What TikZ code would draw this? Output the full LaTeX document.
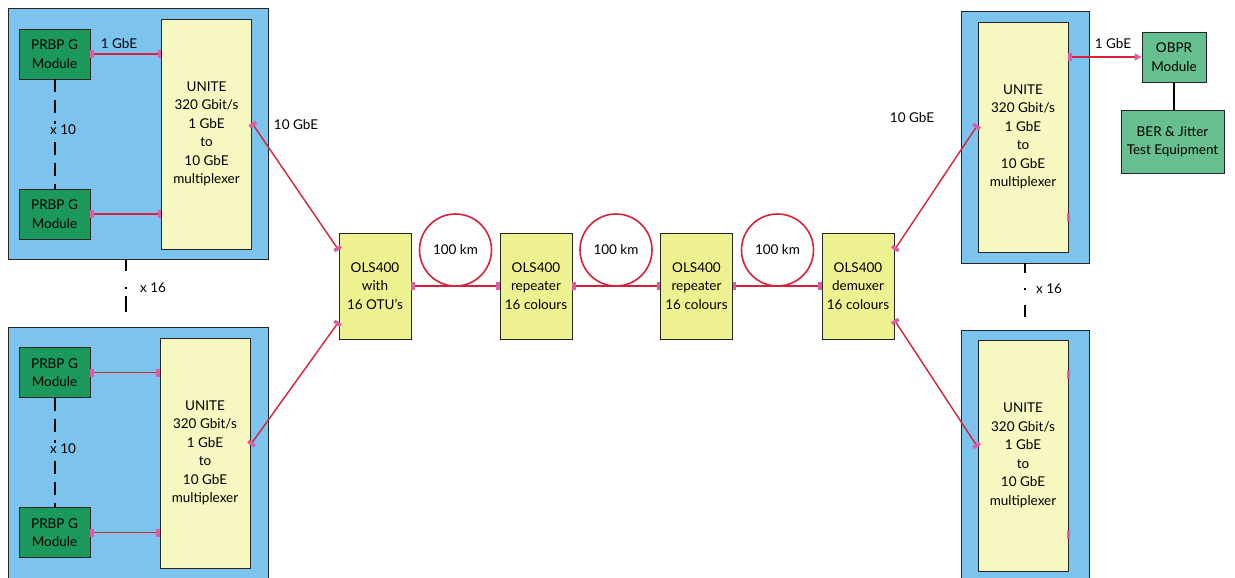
\documentclass[tikz,border=0pt]{standalone}
\usepackage{fontspec}
\setmainfont{Lato}
\usetikzlibrary{arrows.meta,calc}
\definecolor{bluebg}{HTML}{7CC4EE}
\definecolor{unitefill}{HTML}{F7F7C2}
\definecolor{olsfill}{HTML}{EEF190}
\definecolor{darkgreen}{HTML}{1B985C}
\definecolor{lightgreen}{HTML}{66BF8E}
\definecolor{linkred}{HTML}{D8203A}
\definecolor{tippink}{HTML}{DC5CA8}
\tikzset{
  pk/.tip={Rectangle[length=3.5pt,width=8pt,color=tippink]},
  pka/.tip={Triangle[length=7pt,width=7pt,color=tippink]},
}
\begin{document}
\begin{tikzpicture}[x=1pt,y=-1pt,
  font=\fontsize{13.5}{18.5}\selectfont,
  box/.style={draw=black!85, line width=0.8pt, inner sep=0pt, align=center},
  rack/.style={box, fill=bluebg, minimum width=260pt, minimum height=251pt},
  rackr/.style={box, fill=bluebg, minimum width=128pt, minimum height=252pt},
  unite/.style={box, fill=unitefill, minimum width=90pt, minimum height=230pt},
  prbp/.style={box, fill=darkgreen, minimum width=71pt, minimum height=50pt},
  ols/.style={box, fill=olsfill, minimum width=72pt, minimum height=106pt},
  fibre/.style={circle, draw=linkred, line width=1.6pt, fill=white, minimum size=72pt, inner sep=0pt},
  link/.style={draw=linkred, line width=1.4pt},
  stub/.style={fill=tippink, minimum width=3.5pt, minimum height=8pt, inner sep=0pt},
  lbl/.style={inner sep=1pt},
  tally/.style={draw=black, line width=2pt},
]
\useasboundingbox (0,0) rectangle (1235,578);

% ---- left racks ----
\node[rack] (r1) at (138,133.5) {};
\node[rack, minimum height=260pt] (r2) at (138,457) {};
\node[unite] (u1) at (206.5,134) {UNITE\\320 Gbit/s\\1 GbE\\to\\10 GbE\\multiplexer};
\node[unite] (u2) at (205,453) {UNITE\\320 Gbit/s\\1 GbE\\to\\10 GbE\\multiplexer};
\node[prbp] (p1) at (54.5,54) {PRBP G\\Module};
\node[prbp] (p2) at (54.5,214) {PRBP G\\Module};
\node[prbp] (p3) at (54.5,372.5) {PRBP G\\Module};
\node[prbp] (p4) at (54.5,532.5) {PRBP G\\Module};

\draw[link, pk-pk] (p1.east) -- (p1.east -| u1.west);
\draw[link, pk-pk] (p2.east) -- (p2.east -| u1.west);
\draw[link, pk-pk] (p3.east) -- (p3.east -| u2.west);
\draw[link, pk-pk] (p4.east) -- (p4.east -| u2.west);
\node[lbl] (g1) at (119,44) {1 GbE};

% module tallies
\draw[tally, dash pattern=on 13pt off 8pt] (p1.south) -- (p2.north);
\node[lbl, fill=bluebg] (t1) at (63,130) {x 10};
\draw[tally, dash pattern=on 13pt off 8pt] (p3.south) -- (p4.north);
\node[lbl, fill=bluebg] (t2) at (63,449) {x 10};

% rack tally
\draw[tally, dash pattern=on 12pt off 16pt on 2pt off 7pt on 16pt off 40pt] (r1.south -| 126,0) -- (r2.north -| 126,0);
\node[lbl] (t3) at (153,288) {x 16};

% ---- right racks ----
\node[rackr] (r3) at (1025,137) {};
\node[rackr, minimum height=260pt] (r4) at (1025,460) {};
\node[unite] (u3) at (1023,137) {UNITE\\320 Gbit/s\\1 GbE\\to\\10 GbE\\multiplexer};
\node[unite, minimum height=231pt] (u4) at (1023,455.5) {UNITE\\320 Gbit/s\\1 GbE\\to\\10 GbE\\multiplexer};
\node[box, fill=lightgreen, minimum width=64pt, minimum height=50pt] (obpr) at (1174,57) {OBPR\\Module};
\node[box, fill=lightgreen, minimum width=103pt, minimum height=63pt] (ber) at (1172.5,141.5) {BER \& Jitter\\Test Equipment};
\draw[line width=1.5pt] (obpr.south) -- (obpr.south |- ber.north);
\draw[link, pk-pka] (u3.east |- obpr.west) -- (obpr.west);
\node[lbl] (g2) at (1113,44) {1 GbE};
\node[stub] at ([yshift=-80pt]u3.east) {};
\node[stub] at ([yshift=80.5pt]u4.east) {};
\node[stub] at ([yshift=-79.5pt]u4.east) {};

\draw[tally, dash pattern=on 10pt off 15pt on 2pt off 15pt on 12pt off 40pt] (r3.south) -- (r4.north);
\node[lbl] (t4) at (1049,289) {x 16};

% ---- optical line ----
\node[ols] (o1) at (375,286) {OLS400\\with\\16 OTU's};
\node[ols] (o2) at (536,286) {OLS400\\repeater\\16 colours};
\node[ols] (o3) at (696.5,286) {OLS400\\repeater\\16 colours};
\node[ols] (o4) at (858,286) {OLS400\\demuxer\\16 colours};

\draw[link, pk-pk] (o1.east) -- (o2.west);
\draw[link, pk-pk] (o2.east) -- (o3.west);
\draw[link, pk-pk] (o3.east) -- (o4.west);
\node[fibre] (f1) at (455.5,250) {100 km};
\node[fibre] (f2) at (616,250) {100 km};
\node[fibre] (f3) at (777.5,250) {100 km};

% 10 GbE uplinks
\draw[link, pk-pk] ([yshift=11pt]u1.east) -- ([yshift=36pt]o1.west);
\draw[link, pk-pk] ([yshift=8pt]u2.east) -- ([yshift=-36pt]o1.west);
\draw[link, pk-pk] ([yshift=12pt]u3.west) -- ([yshift=36pt]o4.east);
\draw[link, pk-pk] ([yshift=8.5pt]u4.west) -- ([yshift=-34pt]o4.east);
\node[lbl] (g3) at (296,125) {10 GbE};
\node[lbl] (g4) at (912,118) {10 GbE};
\end{tikzpicture}
\end{document}
